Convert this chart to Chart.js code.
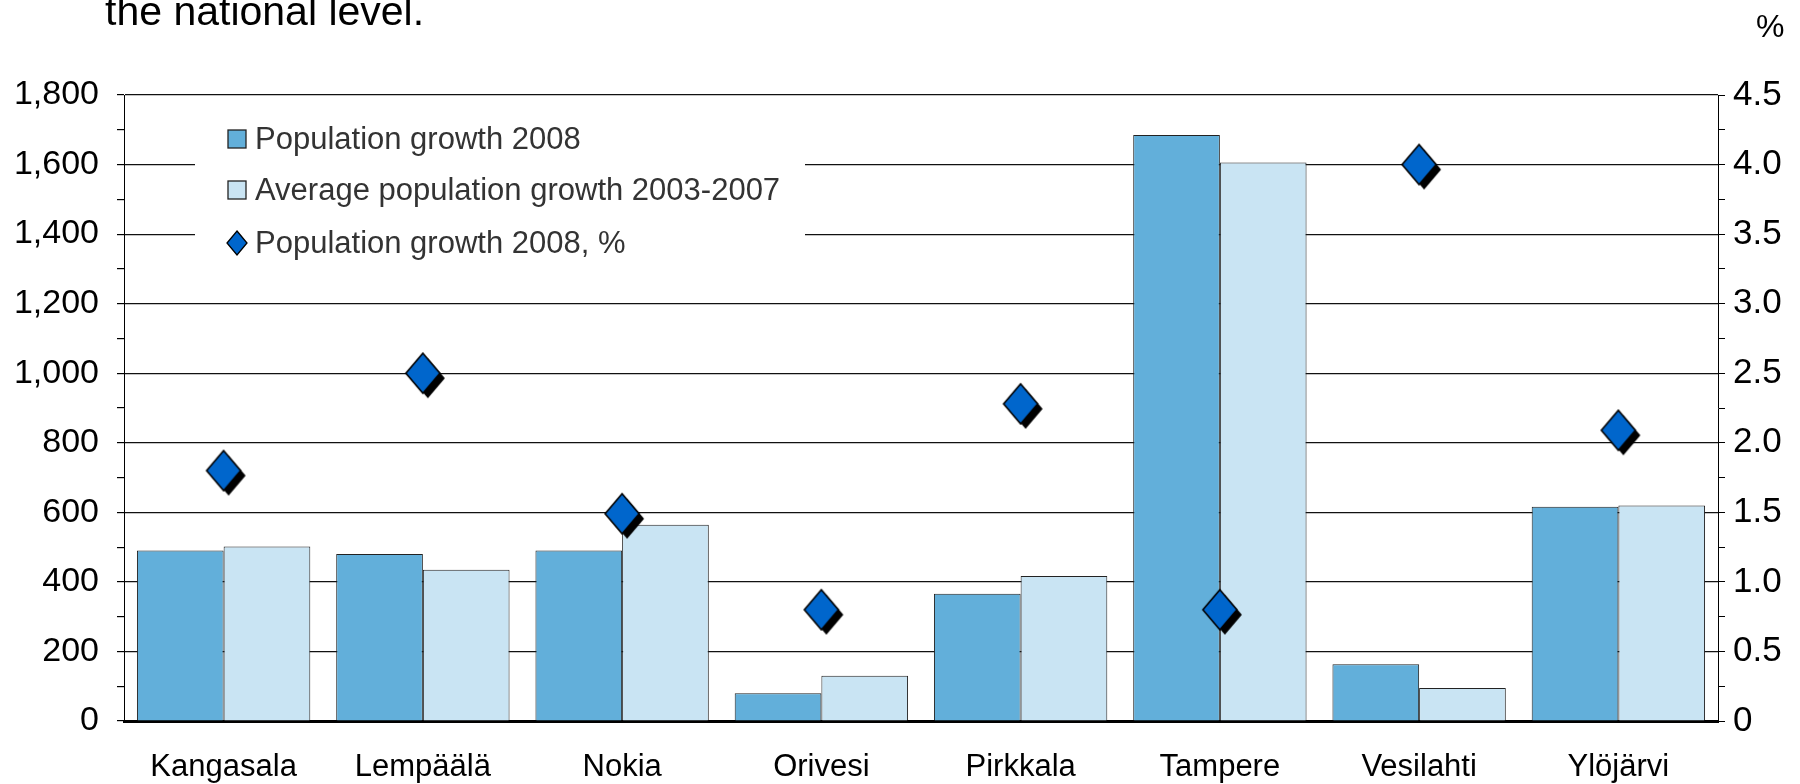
<!DOCTYPE html>
<html>
<head>
<meta charset="utf-8">
<script src="https://cdn.jsdelivr.net/npm/chart.js@4.4.1/dist/chart.umd.min.js"></script>
<style>
  body { margin: 0; background: #fff; }
  #wrap { position: relative; width: 1800px; height: 784px; overflow: hidden; }
  #chart { position: absolute; left: 0; top: 0; }
  .txt { position: absolute; font-family: 'Liberation Sans', Arial, sans-serif; color: #000; white-space: nowrap; }
  #title { left: 105px; top: -12px; font-size: 41px; }
  #unit { left: 1756px; top: 8px; font-size: 32px; }
</style>
</head>
<body>
<div id="wrap">
  <canvas id="chart" width="1800" height="784"></canvas>
  <div id="title" class="txt">the national level.</div>
  <div id="unit" class="txt">%</div>
</div>
<script>
// data
const categories = ['Kangasala', 'Lempäälä', 'Nokia', 'Orivesi', 'Pirkkala', 'Tampere', 'Vesilahti', 'Ylöjärvi'];
const growth2008 = [490, 480, 490, 80, 366, 1685, 163, 616];
const avgGrowth = [502, 435, 564, 130, 417, 1606, 95, 620];
const growthPct = [1.8, 2.5, 1.49, 0.8, 2.28, 0.8, 4.0, 2.09];
const seriesNames = ['Population growth 2008', 'Average population growth 2003-2007', 'Population growth 2008, %'];

const FONT = "'Liberation Sans', Arial, sans-serif";
const darkBlue = '#62AFDA';
const lightBlue = '#C9E4F3';
const markerBlue = '#0066CC';

// diamond with a black drop shadow, used as point image
function makeDiamond(w, h, shadow) {
    const pad = 6;
    const c = document.createElement('canvas');
    c.width = w + pad * 2;
    c.height = h + pad * 2;
    const g = c.getContext('2d');
    const cx = c.width / 2, cy = c.height / 2;
    function path(dx, dy) {
        g.beginPath();
        g.moveTo(cx + dx, cy - h / 2 + dy);
        g.lineTo(cx + w / 2 + dx, cy + dy);
        g.lineTo(cx + dx, cy + h / 2 + dy);
        g.lineTo(cx - w / 2 + dx, cy + dy);
        g.closePath();
    }
    if (shadow) {
        path(5, 5);
        g.fillStyle = '#000';
        g.fill();
    }
    path(0, 0);
    g.fillStyle = markerBlue;
    g.fill();
    g.lineWidth = 1.6;
    g.strokeStyle = '#000';
    g.stroke();
    return c;
}
const diamond = makeDiamond(34, 40, true);

// legend inside the plot, on a white box
const legendBox = {
    id: 'legendBox',
    beforeDatasetsDraw(chart) {
        const ctx = chart.ctx;
        const x0 = 195, y0 = 112, w = 610, h = 150;
        ctx.save();
        ctx.fillStyle = '#fff';
        ctx.fillRect(x0, y0, w, h);
        ctx.font = '31px ' + FONT;
        ctx.textBaseline = 'middle';
        const rows = [139, 190, 243];
        chart.data.datasets.forEach(function(ds, i) {
            const y = rows[i];
            if (ds.type === 'line') {
                ctx.beginPath();
                ctx.moveTo(237, y - 12);
                ctx.lineTo(247, y);
                ctx.lineTo(237, y + 12);
                ctx.lineTo(227, y);
                ctx.closePath();
                ctx.fillStyle = markerBlue;
                ctx.fill();
                ctx.lineWidth = 1.3;
                ctx.strokeStyle = '#000';
                ctx.stroke();
            } else {
                ctx.fillStyle = ds.backgroundColor;
                ctx.fillRect(228, y - 9, 18, 18);
                ctx.lineWidth = 1.3;
                ctx.strokeStyle = '#222';
                ctx.strokeRect(228, y - 9, 18, 18);
            }
            ctx.fillStyle = '#333';
            ctx.textAlign = 'left';
            ctx.fillText(ds.label, 255, y + 1);
        });
        ctx.restore();
    }
};

const ctx = document.getElementById('chart').getContext('2d');
new Chart(ctx, {
    type: 'bar',
    data: {
        labels: categories,
        datasets: [
            {
                label: seriesNames[0],
                data: growth2008,
                backgroundColor: darkBlue,
                borderColor: '#222',
                borderWidth: 1,
                categoryPercentage: 0.87,
                barPercentage: 1.0,
                yAxisID: 'y',
                order: 2
            },
            {
                label: seriesNames[1],
                data: avgGrowth,
                backgroundColor: lightBlue,
                borderColor: '#222',
                borderWidth: 1,
                categoryPercentage: 0.87,
                barPercentage: 1.0,
                yAxisID: 'y',
                order: 2
            },
            {
                type: 'line',
                label: seriesNames[2],
                data: growthPct,
                showLine: false,
                pointStyle: diamond,
                pointRadius: 20,
                pointHoverRadius: 20,
                yAxisID: 'y1',
                order: 0
            }
        ]
    },
    options: {
        responsive: false,
        animation: false,
        devicePixelRatio: 1,
        layout: { padding: { top: 95, left: 0, right: 0, bottom: 0 } },
        plugins: {
            legend: { display: false },
            tooltip: { enabled: false }
        },
        scales: {
            x: {
                offset: true,
                grid: { display: false, drawTicks: false },
                border: { display: true, color: '#000', width: 3 },
                ticks: { color: '#000', font: { family: FONT, size: 31 }, padding: 28, maxRotation: 0 },
                afterFit(scale) { scale.height = 63; }
            },
            y: {
                position: 'left',
                min: 0,
                max: 1800,
                ticks: {
                    stepSize: 100,
                    maxTicksLimit: 100,
                    autoSkip: false,
                    color: '#000',
                    font: { family: FONT, size: 34 },
                    padding: 18,
                    callback: function(v) { return v % 200 === 0 ? v.toLocaleString('en-US') : ''; }
                },
                grid: {
                    color: function(c) { return c.tick && c.tick.value % 200 === 0 && c.tick.value !== 0 ? '#111' : 'rgba(0,0,0,0)'; },
                    tickColor: '#000',
                    tickLength: 7,
                    lineWidth: 1.2
                },
                border: { display: true, color: '#000', width: 1 },
                afterFit(scale) { scale.width = 124; }
            },
            y1: {
                position: 'right',
                min: 0,
                max: 4.5,
                ticks: {
                    stepSize: 0.25,
                    maxTicksLimit: 100,
                    autoSkip: false,
                    color: '#000',
                    font: { family: FONT, size: 35 },
                    padding: 8,
                    callback: function(v) {
                        if (Math.abs(v * 2 - Math.round(v * 2)) > 1e-6) return '';
                        return v === 0 ? '0' : v.toFixed(1);
                    }
                },
                grid: { drawOnChartArea: false, tickColor: '#000', tickLength: 7 },
                border: { display: true, color: '#000', width: 1 },
                afterFit(scale) { scale.width = 82; }
            }
        }
    },
    plugins: [legendBox]
});
</script>
</body>
</html>
